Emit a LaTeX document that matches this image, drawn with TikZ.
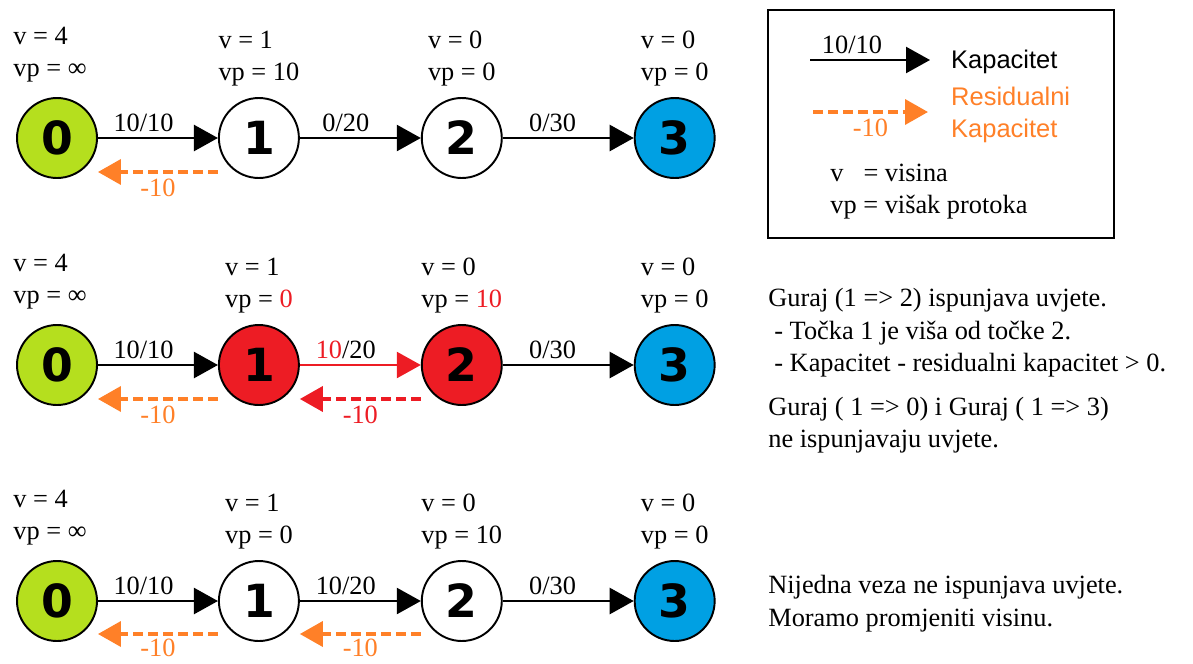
\documentclass[tikz,border=0pt]{standalone}
\usepackage{fontspec}
\setmainfont{Liberation Serif}
\newfontfamily\numfont{DejaVu Sans}
\newfontfamily\legfont{Liberation Sans}
\usetikzlibrary{arrows.meta,positioning}
\definecolor{srcgreen}{RGB}{181,223,30}
\definecolor{sinkblue}{RGB}{0,160,227}
\definecolor{pushred}{RGB}{237,28,36}
\definecolor{resorange}{RGB}{255,128,40}

\begin{document}
\begin{tikzpicture}[
                    x=0.02cm, y=-0.02cm,
                    vertex/.style={
                        circle,
                        draw=black,
                        line width=1.1pt,
                        minimum size=1.6cm,
                        inner sep=0pt,
                        font=\numfont\bfseries\fontsize{26}{26}\selectfont
                    },
                    source/.style={vertex, fill=srcgreen},
                    sink/.style={vertex, fill=sinkblue},
                    pushed/.style={vertex, fill=pushred},
                    height/.style={
                        align=left,
                        inner sep=0pt,
                        font=\fontsize{15}{18}\selectfont
                    },
                    flow/.style={-{Triangle[length=0.48cm,width=0.52cm]}, line width=1.4pt},
                    residual/.style={-{Triangle[length=0.46cm,width=0.5cm]}, line width=2.1pt,
                        dash pattern=on 0.2cm off 0.1cm, draw=resorange},
                    flowlabel/.style={font=\fontsize{15}{16}\selectfont, above, inner sep=3pt, pos=0.38},
                    reslabel/.style={font=\fontsize{15}{16}\selectfont, text=resorange, below, inner sep=3pt},
                    note/.style={align=left, anchor=north west, inner sep=0pt, font=\fontsize{15}{18.5}\selectfont}
                ]
                \useasboundingbox (0,0) rectangle (1193,663);

                % first row
                \node (A0) [source] at (57,138) {0};
                \node (A1) [vertex, right=2.4cm of A0] {1};
                \node (A2) [vertex, right=2.42cm of A1] {2};
                \node (A3) [sink, right=2.62cm of A2] {3};
                \node (hA0) [height, above=0.3cm of A0, xshift=-0.14cm] {v = 4\\vp = ∞};
                \node (hA1) [height, above=0.22cm of A1] {v = 1\\vp = 10};
                \node (hA2) [height, above=0.22cm of A2] {v = 0\\vp = 0};
                \node (hA3) [height, above=0.22cm of A3] {v = 0\\vp = 0};

                \draw [flow] (A0) -- node [flowlabel] {10/10} (A1);
                \draw [flow] (A1) -- node [flowlabel] {0/20} (A2);
                \draw [flow] (A2) -- node [flowlabel] {0/30} (A3);
                \draw [residual] ([yshift=-0.68cm]A1.west) -- node [reslabel] {-10} ([yshift=-0.68cm]A0.east);

                % second row
                \node (B0) [source] at (57,365) {0};
                \node (B1) [pushed, right=2.4cm of B0] {1};
                \node (B2) [pushed, right=2.42cm of B1] {2};
                \node (B3) [sink, right=2.62cm of B2] {3};
                \node (hB0) [height, above=0.3cm of B0, xshift=-0.14cm] {v = 4\\vp = ∞};
                \node (hB1) [height, above=0.22cm of B1] {v = 1\\vp = \textcolor{pushred}{0}};
                \node (hB2) [height, above=0.22cm of B2] {v = 0\\vp = \textcolor{pushred}{10}};
                \node (hB3) [height, above=0.22cm of B3] {v = 0\\vp = 0};

                \draw [flow] (B0) -- node [flowlabel] {10/10} (B1);
                \draw [flow, draw=pushred, -{Triangle[length=0.48cm,width=0.52cm,fill=pushred]}] (B1) -- node [flowlabel] {\textcolor{pushred}{10}/20} (B2);
                \draw [flow] (B2) -- node [flowlabel] {0/30} (B3);
                \draw [residual] ([yshift=-0.68cm]B1.west) -- node [reslabel] {-10} ([yshift=-0.68cm]B0.east);
                \draw [residual, draw=pushred] ([yshift=-0.68cm]B2.west) -- node [reslabel, text=pushred] {-10} ([yshift=-0.68cm]B1.east);

                % third row
                \node (C0) [source] at (57,601) {0};
                \node (C1) [vertex, right=2.4cm of C0] {1};
                \node (C2) [vertex, right=2.42cm of C1] {2};
                \node (C3) [sink, right=2.62cm of C2] {3};
                \node (hC0) [height, above=0.3cm of C0, xshift=-0.14cm] {v = 4\\vp = ∞};
                \node (hC1) [height, above=0.22cm of C1] {v = 1\\vp = 0};
                \node (hC2) [height, above=0.22cm of C2] {v = 0\\vp = 10};
                \node (hC3) [height, above=0.22cm of C3] {v = 0\\vp = 0};

                \draw [flow] (C0) -- node [flowlabel] {10/10} (C1);
                \draw [flow] (C1) -- node [flowlabel] {10/20} (C2);
                \draw [flow] (C2) -- node [flowlabel] {0/30} (C3);
                \draw [residual] ([yshift=-0.66cm]C1.west) -- node [reslabel, inner sep=2pt] {-10} ([yshift=-0.66cm]C0.east);
                \draw [residual] ([yshift=-0.66cm]C2.west) -- node [reslabel, inner sep=2pt] {-10} ([yshift=-0.66cm]C1.east);

                % legend
                \draw [line width=1.1pt] (768,10) rectangle (1114,238);
                \coordinate (kapA) at (810,60);
                \coordinate (kapB) at (930,60);
                \coordinate (resA) at (813,112);
                \coordinate (resB) at (928,112);
                \draw [flow] (kapA) -- node [flowlabel, pos=0.35] {10/10} (kapB);
                \draw [residual] (resA) -- node [reslabel] {-10} (resB);
                \node (kap) [anchor=west, font=\legfont\fontsize{14.5}{16}\selectfont] at (945,62) {Kapacitet};
                \node (res) [anchor=west, align=left, text=resorange, font=\legfont\fontsize{14.5}{18}\selectfont] at (945,115) {Residualni\\Kapacitet};
                \node (vis) [anchor=north west, inner sep=0pt, align=left, font=\fontsize{15}{18}\selectfont] at (830,164) {%
                    v\hspace{0.4cm}= visina\\vp = višak protoka};

                % notes
                \node (push) [note] at (768,288) {Guraj (1 => 2) ispunjava uvjete.\\
                    \hspace{0.12cm}- Točka 1 je viša od točke 2.\\
                    \hspace{0.12cm}- Kapacitet - residualni kapacitet > 0.\\[0.22cm]
                    Guraj ( 1 => 0) i Guraj ( 1 => 3)\\
                    ne ispunjavaju uvjete.};
                \node (stuck) [note] at (768,575) {Nijedna veza ne ispunjava uvjete.\\
                    Moramo promjeniti visinu.};
            \end{tikzpicture}
\end{document}
